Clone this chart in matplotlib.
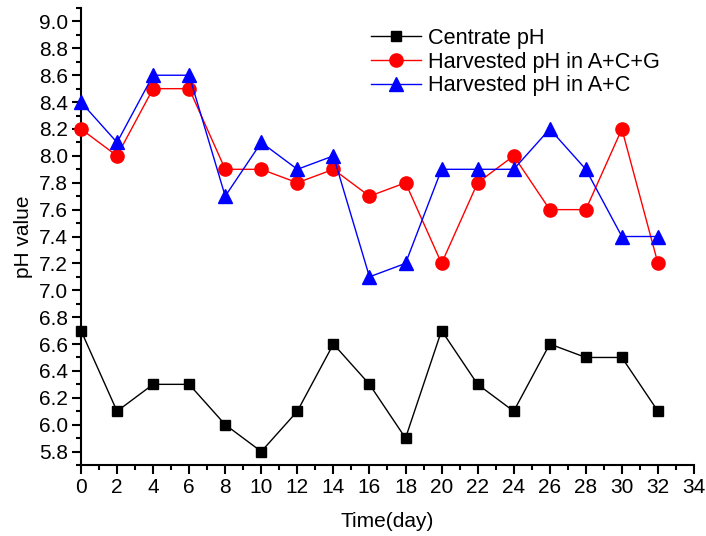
import matplotlib
matplotlib.use('Agg')
import matplotlib.pyplot as plt
from matplotlib.ticker import MultipleLocator

plt.rcParams['font.family'] = ['Liberation Sans', 'DejaVu Sans']

days = [0, 2, 4, 6, 8, 10, 12, 14, 16, 18, 20, 22, 24, 26, 28, 30, 32]
centrate_ph = [6.7, 6.1, 6.3, 6.3, 6.0, 5.8, 6.1, 6.6, 6.3, 5.9, 6.7, 6.3, 6.1, 6.6, 6.5, 6.5, 6.1]
harvest_acg = [8.2, 8.0, 8.5, 8.5, 7.9, 7.9, 7.8, 7.9, 7.7, 7.8, 7.2, 7.8, 8.0, 7.6, 7.6, 8.2, 7.2]
harvest_ac = [8.4, 8.1, 8.6, 8.6, 7.7, 8.1, 7.9, 8.0, 7.1, 7.2, 7.9, 7.9, 7.9, 8.2, 7.9, 7.4, 7.4]

fig = plt.figure(figsize=(7.06, 5.36), dpi=100)
ax = fig.add_axes([0.1147, 0.1325, 0.8683, 0.8525])

ax.plot(days, centrate_ph, color='black', marker='s', markersize=7.5, linewidth=1,
        label='Centrate pH', clip_on=False, zorder=3)
ax.plot(days, harvest_acg, color='red', marker='o', markersize=9.5, linewidth=1,
        label='Harvested pH in A+C+G', clip_on=False, zorder=3)
ax.plot(days, harvest_ac, color='blue', marker='^', markersize=10, linewidth=1,
        label='Harvested pH in A+C', clip_on=False, zorder=3)

ax.set_xlim(0, 34)
ax.set_ylim(5.7, 9.1)
ax.xaxis.set_major_locator(MultipleLocator(2))
ax.xaxis.set_minor_locator(MultipleLocator(1))
ax.yaxis.set_minor_locator(MultipleLocator(0.1))
ax.set_yticks([5.8 + 0.2 * i for i in range(17)])
ax.set_yticklabels([f'{5.8 + 0.2 * i:.1f}' for i in range(17)])

for s in ['top', 'right']:
    ax.spines[s].set_visible(False)
for s in ['left', 'bottom']:
    ax.spines[s].set_linewidth(1.5)
ax.tick_params(which='major', direction='out', length=6.5, width=1.5, labelsize=15, pad=3)
ax.tick_params(which='minor', direction='out', length=3.5, width=1.5)

ax.set_xlabel('Time(day)', fontsize=15, labelpad=11)
ax.set_ylabel('pH value', fontsize=15, labelpad=4)

ax.legend(loc='upper left', bbox_to_anchor=(0.473, 0.9565), frameon=False, fontsize=15.6,
          handlelength=2.3, handletextpad=0.35, labelspacing=0.12, borderaxespad=0,
          borderpad=0)

fig.savefig('out.png', dpi=100)
